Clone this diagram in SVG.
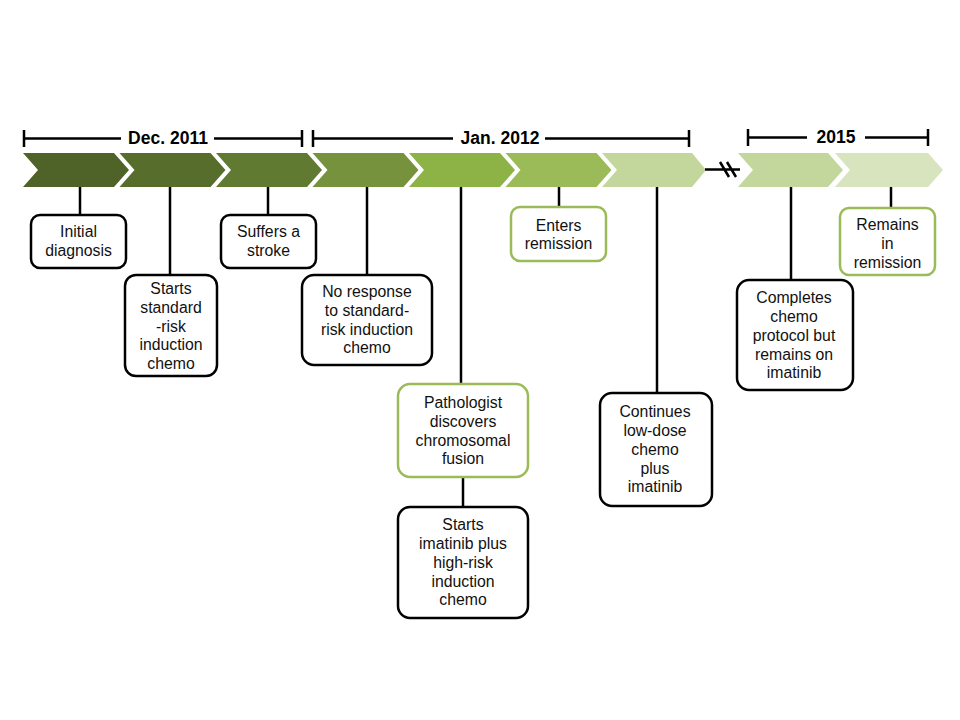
<svg xmlns="http://www.w3.org/2000/svg" width="960" height="720" viewBox="0 0 960 720">
<defs>
<style>
.chev{stroke:none}
.bk{fill:none;stroke:#000;stroke-width:2.5}
.conn line{stroke:#000;stroke-width:2.5}
.box{fill:#fff;stroke:#000;stroke-width:2.5}
.gbox{fill:#fff;stroke:#9bbb59;stroke-width:2.5}
.t{font-family:"Liberation Sans",Arial,sans-serif;font-size:15.8px;fill:#111;text-anchor:middle}
.h{font-family:"Liberation Sans",Arial,sans-serif;font-size:17.5px;font-weight:bold;fill:#000;text-anchor:middle}
</style>
</defs>
<rect width="960" height="720" fill="#fff"/>
<g id="chevrons">
<polygon class="chev" fill="#4f6228" points="23,153 114,153 129,170 114,187 23,187 38,170"/>
<polygon class="chev" fill="#576d2c" points="119.5,153 210.5,153 225.5,170 210.5,187 119.5,187 134.5,170"/>
<polygon class="chev" fill="#617a31" points="216,153 307,153 322,170 307,187 216,187 231,170"/>
<polygon class="chev" fill="#76923c" points="312.5,153 403.5,153 418.5,170 403.5,187 312.5,187 327.5,170"/>
<polygon class="chev" fill="#8db245" points="409,153 500,153 515,170 500,187 409,187 424,170"/>
<polygon class="chev" fill="#9bbb59" points="505.5,153 596.5,153 611.5,170 596.5,187 505.5,187 520.5,170"/>
<polygon class="chev" fill="#c3d69b" points="602,153 692,153 706,170 692,187 602,187 617,170"/>
<polygon class="chev" fill="#c3d69b" points="738,153 828,153 843,170 828,187 738,187 753,170"/>
<polygon class="chev" fill="#d7e4bd" points="835,153 928,153 943,170 928,187 835,187 850,170"/>
</g>
<g id="brackets">
<path class="bk" d="M24,130V147M24,138.5H121M214,138.5H302M302,130V147"/>
<text class="h" x="168" y="144">Dec. 2011</text>
<path class="bk" d="M313,130V147M313,138.5H453M545,138.5H689M689,130V147"/>
<text class="h" x="500" y="144">Jan. 2012</text>
<path class="bk" d="M748,129V146M748,137.5H807M865,137.5H928M928,129V146"/>
<text class="h" x="836" y="143">2015</text>
</g>
<g id="break">
<path class="bk" d="M705,169.5H740M720,162L729,177M727,162L736,177"/>
</g>
<g class="conn" id="connectors">
<line x1="80" y1="187" x2="80" y2="215"/>
<line x1="170" y1="187" x2="170" y2="275"/>
<line x1="268" y1="187" x2="268" y2="215"/>
<line x1="367" y1="187" x2="367" y2="275"/>
<line x1="461" y1="187" x2="461" y2="384"/>
<line x1="463" y1="477" x2="463" y2="507"/>
<line x1="559" y1="187" x2="559" y2="207"/>
<line x1="657" y1="187" x2="657" y2="393"/>
<line x1="791" y1="187" x2="791" y2="280"/>
<line x1="891" y1="187" x2="891" y2="208"/>
</g>
<g id="n1">
<rect class="box" x="31" y="215" width="95" height="53" rx="9"/>
<text class="t" x="78.5" y="237">Initial</text>
<text class="t" x="78.5" y="256">diagnosis</text>
</g>
<g id="n2">
<rect class="box" x="125" y="275" width="92" height="101" rx="11"/>
<text class="t" x="171" y="294">Starts</text>
<text class="t" x="171" y="313">standard</text>
<text class="t" x="171" y="332">-risk</text>
<text class="t" x="171" y="350">induction</text>
<text class="t" x="171" y="369">chemo</text>
</g>
<g id="n3">
<rect class="box" x="221" y="215" width="95" height="53" rx="9"/>
<text class="t" x="268.5" y="237">Suffers a</text>
<text class="t" x="268.5" y="256">stroke</text>
</g>
<g id="n4">
<rect class="box" x="302" y="275" width="130" height="90" rx="12"/>
<text class="t" x="367" y="297">No response</text>
<text class="t" x="367" y="316">to standard-</text>
<text class="t" x="367" y="335">risk induction</text>
<text class="t" x="367" y="353">chemo</text>
</g>
<g id="n5">
<rect class="gbox" x="398" y="384" width="130" height="93" rx="12"/>
<text class="t" x="463" y="408">Pathologist</text>
<text class="t" x="463" y="427">discovers</text>
<text class="t" x="463" y="446">chromosomal</text>
<text class="t" x="463" y="464">fusion</text>
</g>
<g id="n6">
<rect class="box" x="398" y="507" width="130" height="111" rx="12"/>
<text class="t" x="463" y="530">Starts</text>
<text class="t" x="463" y="549">imatinib plus</text>
<text class="t" x="463" y="568">high-risk</text>
<text class="t" x="463" y="587">induction</text>
<text class="t" x="463" y="605">chemo</text>
</g>
<g id="n7">
<rect class="gbox" x="511" y="207" width="95" height="54" rx="9"/>
<text class="t" x="558.5" y="231">Enters</text>
<text class="t" x="558.5" y="249">remission</text>
</g>
<g id="n8">
<rect class="box" x="600" y="393" width="112" height="113" rx="12"/>
<text class="t" x="655" y="417">Continues</text>
<text class="t" x="655" y="436">low-dose</text>
<text class="t" x="655" y="455">chemo</text>
<text class="t" x="655" y="474">plus</text>
<text class="t" x="655" y="492">imatinib</text>
</g>
<g id="n9">
<rect class="box" x="737" y="280" width="116" height="110" rx="12"/>
<text class="t" x="794" y="303">Completes</text>
<text class="t" x="794" y="322">chemo</text>
<text class="t" x="794" y="341">protocol but</text>
<text class="t" x="794" y="360">remains on</text>
<text class="t" x="794" y="378">imatinib</text>
</g>
<g id="n10">
<rect class="gbox" x="840" y="208" width="95" height="67" rx="9"/>
<text class="t" x="887.5" y="230">Remains</text>
<text class="t" x="887.5" y="249">in</text>
<text class="t" x="887.5" y="268">remission</text>
</g>
</svg>
